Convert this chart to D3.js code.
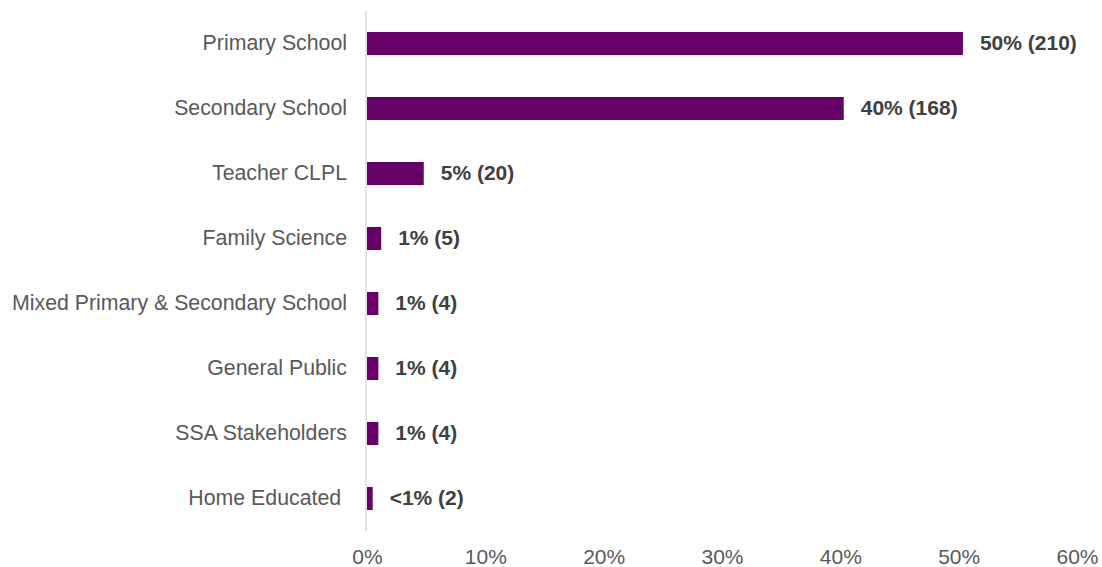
<!DOCTYPE html>
<html><head><meta charset="utf-8">
<script src="https://cdn.jsdelivr.net/npm/d3@7"></script>
<style>body{margin:0;background:#fff}svg{display:block}</style>
</head><body>
<svg id="c" width="1102" height="567"></svg>
<script>
const categories = ["Primary School","Secondary School","Teacher CLPL","Family Science","Mixed Primary & Secondary School","General Public","SSA Stakeholders","Home Educated\u00a0"];
const counts = [210,168,20,5,4,4,4,2];
const total = 417;
const valueLabels = ["50% (210)","40% (168)","5% (20)","1% (5)","1% (4)","1% (4)","1% (4)","<1% (2)"];
const ticks = [0,10,20,30,40,50,60];

const svg = d3.select("#c");
const x = d3.scaleLinear().domain([0,60]).range([367,1077]);
const y = d3.scaleBand().domain(categories).range([11,531]).paddingInner(0.646).paddingOuter(0.323);

const data = categories.map((c,i)=>({c, v: counts[i]/total*100, l: valueLabels[i]}));

svg.append("g").selectAll("rect").data(data).join("rect")
  .attr("x", x(0)).attr("y", d=>y(d.c)).attr("width", d=>x(d.v)-x(0)).attr("height", y.bandwidth())
  .attr("fill", "#660066");

svg.append("line").attr("x1",366).attr("x2",366).attr("y1",11).attr("y2",531)
  .attr("stroke","#d9d9d9").attr("stroke-width",1.5);

svg.append("g").selectAll("text").data(data).join("text")
  .attr("x", 347).attr("y", d=>y(d.c)+y.bandwidth()/2).attr("dy","0.32em")
  .attr("text-anchor","end").attr("font-family","Liberation Sans, Arial, sans-serif")
  .attr("font-size",21.3).attr("fill","#595959").text(d=>d.c);

svg.append("g").selectAll("text").data(data).join("text")
  .attr("x", d=>x(d.v)+17).attr("y", d=>y(d.c)+y.bandwidth()/2).attr("dy","0.33em")
  .attr("font-family","Liberation Sans, Arial, sans-serif").attr("font-weight","bold")
  .attr("font-size",21).attr("fill","#404040").text(d=>d.l);

const axis = d3.axisBottom(x).tickValues(ticks).tickFormat(d=>d+"%").tickSize(0).tickPadding(0);
const ag = svg.append("g").attr("transform","translate(0,564)").call(axis);
ag.select(".domain").remove();
ag.selectAll("text").attr("dy",0).attr("font-family","Liberation Sans, Arial, sans-serif")
  .attr("font-size",21).attr("fill","#595959");
</script>
</body></html>
